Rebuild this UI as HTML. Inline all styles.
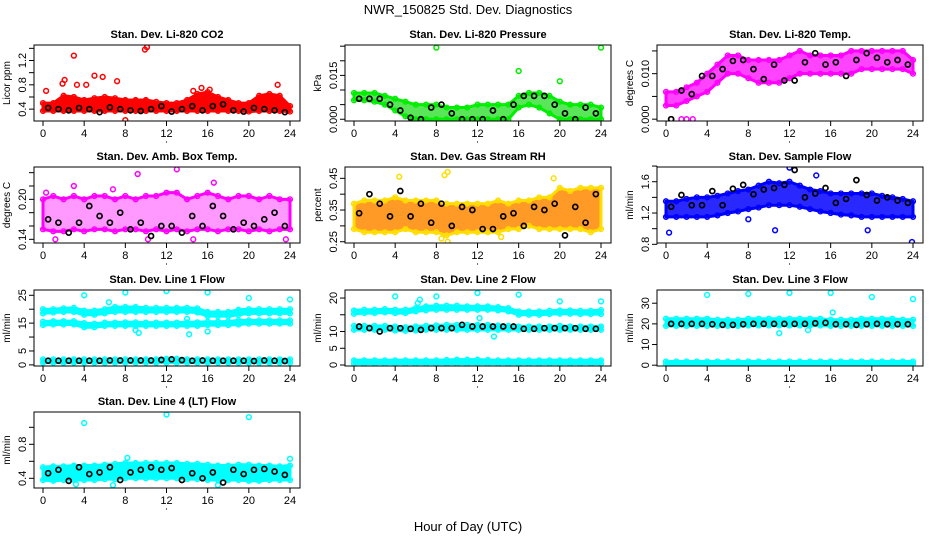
<!DOCTYPE html>
<html><head><meta charset="utf-8"><style>
html,body{margin:0;padding:0;background:#fff;}
svg{display:block;font-family:"Liberation Sans",sans-serif;}
</style></head><body>
<svg id="chart" width="936" height="540" viewBox="0 0 936 540" xmlns="http://www.w3.org/2000/svg">
<text x="468" y="14" font-size="13" text-anchor="middle">NWR_150825  Std. Dev. Diagnostics</text>
<text x="468" y="531" font-size="13" text-anchor="middle">Hour of Day (UTC)</text>
</svg>
<script>
const xTicks=[0,4,8,12,16,20,24];
// Panel 1 CO2
const co2Lo=[0.37,0.37,0.37,0.37,0.37,0.37,0.37,0.37,0.37,0.37,0.37,0.37,0.37,0.37,0.37,0.37,0.37,0.37,0.37,0.37,0.36,0.37,0.37,0.37,0.36];
const co2Hi=[0.5,0.5,0.62,0.6,0.55,0.58,0.6,0.58,0.55,0.55,0.55,0.52,0.5,0.5,0.55,0.65,0.68,0.6,0.55,0.5,0.5,0.62,0.65,0.62,0.45];
const co2Black=[0.42,0.4,0.38,0.42,0.4,0.35,0.43,0.4,0.38,0.37,0.4,0.45,0.36,0.4,0.45,0.38,0.45,0.48,0.38,0.36,0.42,0.4,0.38,0.35];
const co2Out=[[3,1.28],[9.9,1.38],[10.1,1.42],[5,0.95],[5.8,0.93],[7.2,0.86],[2.1,0.88],[1.9,0.82],[0.3,0.7],[4.2,0.8],[3.3,0.8],[8,0.22],[22.8,0.8],[16.2,0.72],[15.4,0.75],[14.6,0.7]];
// Panel 2 pressure
const prLo=[0.0065,0.0065,0.006,0.005,0.003,0.001,0,0,0,0,0,0,0,0,0,0,0.004,0.005,0.004,0.002,0,0,0,0,0];
const prHi=[0.009,0.009,0.009,0.008,0.007,0.006,0.005,0.005,0.005,0.004,0.004,0.004,0.005,0.005,0.005,0.005,0.008,0.009,0.009,0.008,0.006,0.005,0.005,0.005,0.004];
const prBlack=[0.007,0.007,0.007,0.005,0.003,0.0005,0,0.004,0.005,0.002,0,0,0,0.003,0,0.005,0.008,0.008,0.008,0.005,0.002,0,0.004,0.002];
const prOut=[[8,0.0245],[24,0.0245],[16,0.0165],[20,0.013]];
// Panel 3 Li-820 temp
const ltLo=[0.003,0.003,0.004,0.005,0.006,0.008,0.01,0.01,0.009,0.008,0.008,0.008,0.009,0.01,0.01,0.01,0.01,0.01,0.01,0.011,0.011,0.011,0.011,0.011,0.01];
const ltHi=[0.006,0.006,0.007,0.008,0.01,0.012,0.014,0.014,0.013,0.013,0.013,0.013,0.014,0.015,0.014,0.014,0.014,0.014,0.015,0.015,0.015,0.015,0.015,0.015,0.013];
const ltBlack=[0.0,0.0063,0.0055,0.0095,0.0095,0.011,0.0128,0.013,0.011,0.0088,0.012,0.0085,0.0085,0.0125,0.0145,0.012,0.0125,0.0095,0.013,0.0145,0.0135,0.0125,0.013,0.012];
const ltOut=[[0.5,0],[1.5,0],[2,0],[2.6,0]];
// Panel 4 amb box temp
const abLo=[0.155,0.152,0.152,0.155,0.152,0.155,0.155,0.152,0.155,0.155,0.152,0.155,0.152,0.155,0.152,0.155,0.155,0.152,0.155,0.155,0.152,0.155,0.152,0.155,0.155];
const abHi=[0.2,0.205,0.2,0.205,0.2,0.205,0.205,0.2,0.205,0.2,0.205,0.205,0.21,0.21,0.2,0.205,0.21,0.205,0.2,0.205,0.205,0.2,0.205,0.2,0.2];
const abBlack=[0.17,0.165,0.15,0.165,0.19,0.175,0.165,0.18,0.155,0.165,0.145,0.16,0.16,0.15,0.175,0.16,0.19,0.175,0.155,0.165,0.16,0.17,0.18,0.16];
const abOut=[[9.2,0.238],[13,0.245],[16.6,0.225],[3,0.22],[1.2,0.14],[10.2,0.14],[0.3,0.21],[23.6,0.14],[6.8,0.215],[14.6,0.14]];
// Panel 5 RH
const rhLo=[0.29,0.28,0.28,0.28,0.28,0.29,0.28,0.28,0.28,0.27,0.28,0.28,0.28,0.28,0.28,0.29,0.29,0.3,0.29,0.29,0.29,0.29,0.29,0.28,0.29];
const rhHi=[0.37,0.38,0.38,0.38,0.39,0.38,0.38,0.38,0.38,0.37,0.37,0.37,0.37,0.37,0.38,0.37,0.38,0.38,0.39,0.39,0.42,0.41,0.42,0.42,0.42];
const rhBlack=[0.34,0.4,0.37,0.33,0.41,0.33,0.37,0.31,0.37,0.3,0.36,0.35,0.29,0.29,0.33,0.34,0.3,0.36,0.35,0.37,0.27,0.36,0.31,0.4];
const rhOut=[[4.4,0.455],[9.1,0.47],[8.8,0.46],[19.4,0.45],[9.1,0.25],[8.5,0.26],[14.3,0.265]];
// Panel 6 sample flow
const sfLo=[1.15,1.15,1.15,1.15,1.15,1.17,1.2,1.22,1.25,1.27,1.3,1.3,1.3,1.28,1.25,1.22,1.2,1.18,1.17,1.15,1.15,1.15,1.15,1.15,1.15];
const sfHi=[1.35,1.35,1.38,1.4,1.4,1.42,1.45,1.48,1.5,1.55,1.6,1.58,1.6,1.55,1.5,1.48,1.45,1.45,1.45,1.45,1.45,1.42,1.4,1.38,1.35];
const sfBlack=[1.28,1.43,1.3,1.3,1.48,1.3,1.51,1.56,1.44,1.5,1.52,1.56,1.75,1.4,1.45,1.52,1.33,1.38,1.62,1.43,1.36,1.4,1.36,1.33];
const sfOut=[[10.6,0.98],[12,1.78],[23.9,0.83],[0.3,0.95],[14.6,1.68],[19.6,0.98],[8,1.12]];
// Panel 7 line 1 flow (three bands)
const l1aLo=[18.5,18.8,19,19,18,18,18.5,19,19,19,19,19,19,19,19,18.8,17.5,17.5,17.5,18,18.5,18.5,18.5,18.5,18.5];
const l1aHi=[20,20,20.3,20.5,19.5,19.5,20,20.8,20.8,20.8,20.5,20.5,20.5,20.5,20.5,20.3,19,19,19,19.8,20,20,20,20,20];
const l1bLo=[14.3,14.5,14.5,14.5,13.5,13.5,14,14,14,14,14,14,14,14,14,14,14.3,14.3,14.3,14.5,14.8,14.8,14.8,14.8,14.8];
const l1bHi=[15.5,15.7,15.7,15.7,15,14.8,15.2,15.2,15.3,15.3,15.2,15.2,15.2,15.2,15.3,15.3,15.5,15.5,15.6,16,16,16,16,16,16];
const l1cLo=[0.8,0.8,0.8,0.8,0.8,0.8,0.8,0.8,0.8,0.8,0.8,0.8,0.8,0.8,0.8,0.8,0.8,0.8,0.8,0.8,0.8,0.8,0.8,0.8,0.8];
const l1cHi=[2,2,2,2,2,2,2,2,2,2,2,2,2.2,2.2,2,2,2,2,2,2,2,2,2,2,2];
const l1Black=[1.5,1.5,1.5,1.5,1.5,1.5,1.6,1.6,1.6,1.6,1.6,1.8,2,1.7,1.5,1.6,1.5,1.5,1.5,1.5,1.4,1.6,1.5,1.4];
const l1Out=[[4,25],[8,26],[12,26.5],[16,26],[20,24],[24,23.5],[6.4,22.5],[9,12.5],[9.3,11.5],[14.2,11],[16,12],[14,16.5]];
// Panel 8 line 2 flow
const l2aLo=[15.3,15.5,15.5,15.7,15.5,15.5,16,16.3,16.5,16.5,16.5,16.5,16.5,16.5,16.3,16,15,15,15,15.2,15.3,15.3,15.2,15.2,15.2];
const l2aHi=[16.3,16.5,16.5,16.7,16.5,16.5,17,17.5,17.7,17.7,17.7,17.5,17.5,17.5,17.3,17,16,16,16,16.2,16.3,16.3,16.2,16.2,16.4];
const l2bLo=[10.5,10.5,10.5,10.5,10.3,10.2,10.3,10.5,10.5,10.5,10.5,10.5,10.5,10.5,10.5,10.5,10.5,10.5,10.5,10.5,10.5,10.5,10.5,10.5,10.5];
const l2bHi=[11.7,11.7,11.7,11.7,11.5,11.3,11.5,11.7,11.8,12,12,12,12,12,11.8,11.7,11.5,11.5,11.5,11.5,11.7,11.5,11.5,11.5,11.5];
const l2cLo=[0.4,0.4,0.4,0.4,0.4,0.4,0.4,0.4,0.4,0.4,0.4,0.4,0.4,0.4,0.4,0.4,0.4,0.4,0.4,0.4,0.4,0.4,0.4,0.4,0.4];
const l2cHi=[1.4,1.4,1.4,1.4,1.4,1.4,1.4,1.4,1.4,1.5,1.6,1.6,1.6,1.5,1.4,1.4,1.4,1.4,1.4,1.4,1.4,1.4,1.4,1.4,1.4];
const l2Black=[11.5,11,10,11,11,10.8,10.5,11,11,11,12,11.5,11.5,11.5,11.5,11.5,10.8,10.8,11,11,11,11,10.8,10.8];
const l2Out=[[4,20.5],[8,20.5],[12,21.5],[16,21],[20,19],[24,19],[6.4,19.5],[6.2,18.5],[13.6,8.5],[12.2,14]];
// Panel 9 line 3 flow
const l3aLo=[19,19,19,19,19,19,19,19,19.2,19.2,19.2,19.2,19.2,19.2,19.2,19.2,19,19,19,19,19,19,19,19,19];
const l3aHi=[22.5,22.5,22.5,22.5,22.5,22,22,22,22.5,22.5,22.5,22.5,22.5,22.5,22.5,22.5,22,22,22,22.5,22.5,22.5,22.5,22,22];
const l3bLo=[0.5,0.5,0.5,0.5,0.5,0.5,0.5,0.5,0.5,0.5,0.5,0.5,0.5,0.5,0.5,0.5,0.5,0.5,0.5,0.5,0.5,0.5,0.5,0.5,0.5];
const l3bHi=[1.8,1.8,1.8,1.8,1.8,1.8,1.8,1.8,1.8,1.8,1.8,1.8,1.8,1.8,1.8,1.8,1.8,1.8,1.8,1.8,1.8,1.8,1.8,1.8,1.8];
const l3Black=[20,20,20,20,19.8,19.5,19.5,19.8,20,20,20,20,20,20,20.3,20.5,19.8,19.8,19.5,19.8,20,19.8,19.8,19.8];
const l3Out=[[4,34],[8,34.5],[12,35],[16,35],[20,33],[24,32],[11,15.5],[16.2,25.5],[13.8,17]];
// Panel 10 line 4 flow
const l4Lo=[0.38,0.37,0.38,0.38,0.38,0.38,0.39,0.39,0.4,0.4,0.4,0.4,0.4,0.4,0.39,0.39,0.38,0.38,0.38,0.38,0.37,0.37,0.38,0.38,0.38];
const l4Hi=[0.53,0.54,0.54,0.55,0.55,0.55,0.56,0.57,0.58,0.58,0.58,0.58,0.58,0.58,0.57,0.57,0.56,0.55,0.55,0.56,0.56,0.55,0.55,0.54,0.55];
const l4Black=[0.46,0.5,0.37,0.53,0.45,0.47,0.53,0.38,0.47,0.5,0.53,0.5,0.52,0.38,0.46,0.4,0.47,0.35,0.5,0.45,0.5,0.51,0.48,0.44];
const l4Out=[[4,1.05],[12,1.15],[20,1.12],[24,0.63],[8.2,0.64],[3.2,0.33],[6.8,0.32],[17,0.32],[0.3,0.48]];

const panels=[
 {name:'co2',title:'Stan. Dev. Li-820 CO2',yl:'Licor ppm',col:0,row:0,dom:[0.205,1.455],ticks:[0.4,0.6,0.8,1.0,1.2,1.4],labs:['0.4','','0.8','','1.2',''],color:'#ff0000',fill:'#ff0000',fop:1,bands:[[co2Lo,co2Hi]],black:co2Black,out:co2Out},
 {name:'pressure',title:'Stan. Dev. Li-820 Pressure',yl:'kPa',col:1,row:0,dom:[-0.0006,0.0254],ticks:[0,0.005,0.01,0.015,0.02,0.025],labs:['0.000','','','0.015','',''],color:'#00ee00',fill:'#22dd22',fop:0.75,bands:[[prLo,prHi]],black:prBlack,out:prOut},
 {name:'li820-temp',title:'Stan. Dev. Li-820 Temp.',yl:'degrees C',col:2,row:0,dom:[-0.0004,0.0163],ticks:[0,0.005,0.01,0.015],labs:['0.000','','0.010',''],color:'#ff00ff',fill:'#ff22ff',fop:0.85,bands:[[ltLo,ltHi]],black:ltBlack,out:ltOut},
 {name:'amb-box-temp',title:'Stan. Dev. Amb. Box Temp.',yl:'degrees C',col:0,row:1,dom:[0.1345,0.2485],ticks:[0.14,0.16,0.18,0.2,0.22,0.24],labs:['0.14','','','0.20','',''],color:'#ff00ff',fill:'#ff55ff',fop:0.6,bands:[[abLo,abHi]],black:abBlack,out:abOut},
 {name:'gas-stream-rh',title:'Stan. Dev. Gas Stream RH',yl:'percent',col:1,row:1,dom:[0.246,0.4857],ticks:[0.25,0.3,0.35,0.4,0.45],labs:['0.25','','0.35','','0.45'],color:'#ffdd00',fill:'#ff8800',fop:0.85,bands:[[rhLo,rhHi]],black:rhBlack,out:rhOut},
 {name:'sample-flow',title:'Stan. Dev. Sample Flow',yl:'ml/min',col:2,row:1,dom:[0.817,1.788],ticks:[0.8,1.0,1.2,1.4,1.6,1.8],labs:['0.8','','1.2','','1.6',''],color:'#0000ff',fill:'#1111ff',fop:0.9,bands:[[sfLo,sfHi]],black:sfBlack,out:sfOut},
 {name:'line1-flow',title:'Stan. Dev. Line 1 Flow',yl:'ml/min',col:0,row:2,dom:[-0.4,26.9],ticks:[0,5,10,15,20,25],labs:['0','5','','15','','25'],color:'#00ffff',fill:'#00ffff',fop:1,bands:[[l1aLo,l1aHi],[l1bLo,l1bHi],[l1cLo,l1cHi]],black:l1Black,out:l1Out},
 {name:'line2-flow',title:'Stan. Dev. Line 2 Flow',yl:'ml/min',col:1,row:2,dom:[-0.3,22.4],ticks:[0,5,10,15,20],labs:['0','5','10','','20'],color:'#00ffff',fill:'#00ffff',fop:1,bands:[[l2aLo,l2aHi],[l2bLo,l2bHi],[l2cLo,l2cHi]],black:l2Black,out:l2Out},
 {name:'line3-flow',title:'Stan. Dev. Line 3 Flow',yl:'ml/min',col:2,row:2,dom:[-0.4,36.4],ticks:[0,10,20,30],labs:['0','10','20','30'],color:'#00ffff',fill:'#00ffff',fop:1,bands:[[l3aLo,l3aHi],[l3bLo,l3bHi]],black:l3Black,out:l3Out},
 {name:'line4-flow',title:'Stan. Dev. Line 4 (LT) Flow',yl:'ml/min',col:0,row:3,dom:[0.286,1.18],ticks:[0.4,0.6,0.8,1.0],labs:['0.4','','0.8',''],color:'#00ffff',fill:'#00ffff',fop:1,bands:[[l4Lo,l4Hi]],black:l4Black,out:l4Out}
];
const colL=[34,345,657], rowT=[45,167,290,412], W=266, H=76;
const svg=document.getElementById('chart');
const NS='http://www.w3.org/2000/svg';
function mk(tag,attrs,parent){const e=document.createElementNS(NS,tag);for(const k in attrs)e.setAttribute(k,attrs[k]);(parent||svg).appendChild(e);return e;}
panels.forEach(p=>{
 const L=colL[p.col],T=rowT[p.row],B=T+H,R=L+W;
 const g=mk('g',{});
 
 
 const xs=h=>L+9+h*(247/24);
 const ys=v=>B-(v-p.dom[0])/(p.dom[1]-p.dom[0])*H;
 const cl=mk('clipPath',{id:'c'+p.name},g);mk('rect',{x:L,y:T,width:W,height:H},cl);
 const dg=mk('g',{'clip-path':'url(#c'+p.name+')'},g);
 
 
 p.bands.forEach((bd,bi)=>{
  const lo=bd[0],hi=bd[1];let pts=[];
  hi.forEach((v,i)=>pts.push(xs(i)+','+ys(v)));
  for(let i=lo.length-1;i>=0;i--)pts.push(xs(i)+','+ys(lo[i]));
  const poly=mk('polygon',{points:pts.join(' '),fill:p.fill,'fill-opacity':p.fop,stroke:p.color,'stroke-width':3,'stroke-linejoin':'round'},dg);
  
  
  [lo,hi].forEach(arr=>arr.forEach((v,i)=>{
   const c=mk('circle',{cx:xs(i),cy:ys(v),r:2.4,fill:'none',stroke:p.color,'stroke-width':1.4},dg);
   
   
  }));
 });
 p.out.forEach(o=>{
  const c=mk('circle',{cx:xs(o[0]),cy:ys(o[1]),r:2.4,fill:'none',stroke:p.color,'stroke-width':1.5},dg);
  
  
 });
 p.black.forEach((v,i)=>{
  const c=mk('circle',{cx:xs(i+0.5),cy:ys(v),r:2.5,fill:'none',stroke:'#000','stroke-width':1.7},dg);
  
  
 });
 const box=mk('rect',{x:L,y:T,width:W,height:H,fill:'none',stroke:'#000','stroke-width':1},g);
 
 
 const tt=mk('text',{x:(L+R)/2,y:T-7,'font-size':11,'font-weight':'bold','text-anchor':'middle'},g);tt.textContent=p.title;
 
 
 mk('line',{x1:xs(0),x2:xs(24),y1:B,y2:B,stroke:'#000'},g);
 xTicks.forEach(t=>{
  mk('line',{x1:xs(t),x2:xs(t),y1:B,y2:B+5,stroke:'#000'},g);
  const lt=mk('text',{x:xs(t),y:B+16,'font-size':11,'text-anchor':'middle'},g);lt.textContent=t;
  
  
 });
 mk('circle',{cx:xs(12),cy:B+21,r:0.6,fill:'#000'},g);
 mk('line',{x1:L,x2:L,y1:ys(p.ticks[0]),y2:ys(p.ticks[p.ticks.length-1]),stroke:'#000'},g);
 p.ticks.forEach((t,i)=>{
  const y=ys(t);
  mk('line',{x1:L-5,x2:L,y1:y,y2:y,stroke:'#000'},g);
  if(p.labs[i]){const lt=mk('text',{x:L-8,y:y,'font-size':11,'text-anchor':'middle',transform:'rotate(-90 '+(L-8)+' '+y+')'},g);lt.textContent=p.labs[i];
   
   }
 });
 const yt=mk('text',{x:L-24,y:(T+B)/2,'font-size':10,'text-anchor':'middle',transform:'rotate(-90 '+(L-24)+' '+(T+B)/2+')'},g);yt.textContent=p.yl;
 
 
});
</script>
</body></html>
